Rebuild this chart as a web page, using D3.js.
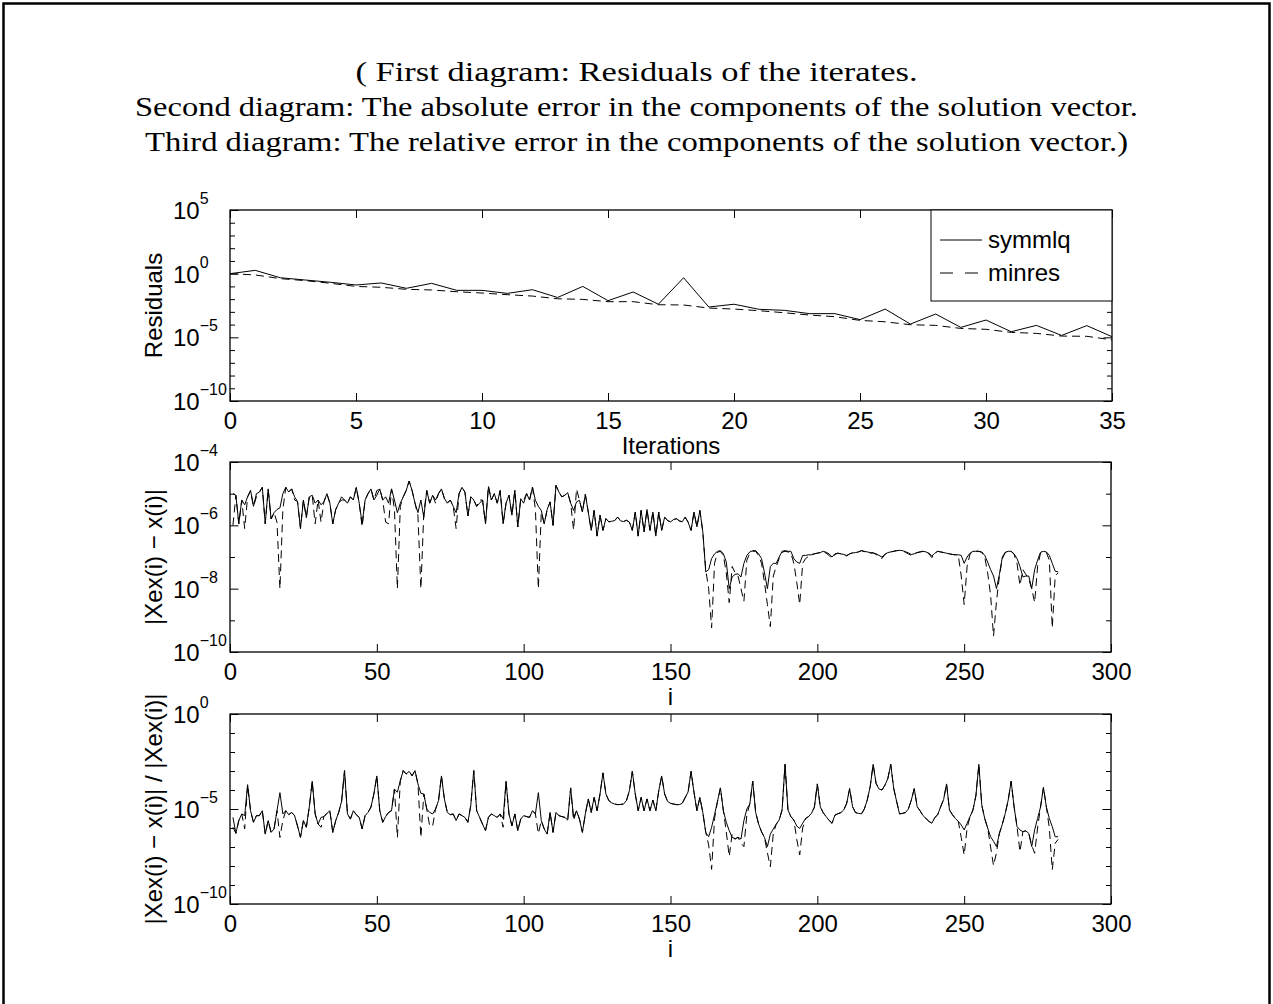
<!DOCTYPE html>
<html><head><meta charset="utf-8">
<script src="https://cdn.jsdelivr.net/npm/d3@7"></script>
<style>body{margin:0;background:#fff}svg{display:block}</style>
</head><body>
<svg id="chart" width="1273" height="1004"></svg>
<script>
// ---------------- DATA (values stored as log10 exponents) ----------------
const titleLines = [
  "( First diagram: Residuals of the iterates.",
  "Second diagram: The absolute error in the components of the solution vector.",
  "Third diagram: The relative error in the components of the solution vector.)"
];
const seriesNames = ["symmlq", "minres"];
const iterations = [0,1,2,3,4,5,6,7,8,9,10,11,12,13,14,15,16,17,18,19,20,21,22,23,24,25,26,27,28,29,30,31,32,33,34,35];
const iterTicks = [0,5,10,15,20,25,30,35];
const compTicks = [0,50,100,150,200,250,300];

const residSymmlqExp = [0.0,0.26,-0.32,-0.5,-0.68,-0.89,-0.73,-1.15,-0.76,-1.31,-1.31,-1.55,-1.26,-1.87,-1.0,-2.12,-1.44,-2.40,-0.32,-2.62,-2.40,-2.80,-2.88,-3.14,-3.14,-3.61,-2.78,-3.96,-3.17,-4.22,-3.64,-4.56,-4.06,-4.85,-4.08,-4.95];
const residMinresExp = [0.0,-0.1,-0.39,-0.55,-0.76,-1.0,-1.07,-1.23,-1.28,-1.42,-1.52,-1.65,-1.76,-1.97,-2.02,-2.2,-2.2,-2.44,-2.46,-2.70,-2.78,-2.91,-3.07,-3.25,-3.38,-3.67,-3.78,-4.01,-4.06,-4.30,-4.37,-4.61,-4.69,-4.90,-4.92,-5.2];

const absErrSymmlqExp = [
-5.0,-5.05,-5.95,-5.2,-5.35,-5.1,-4.9,-5.4,-5.0,-4.95,
-4.8,-5.95,-4.85,-5.8,-5.6,-5.5,-5.45,-5.0,-4.8,-4.95,
-4.85,-5.1,-5.25,-6.1,-5.2,-5.75,-5.1,-5.05,-5.3,-5.2,
-5.35,-5.25,-5.0,-5.3,-5.95,-5.5,-5.3,-5.1,-5.2,-5.3,
-5.1,-5.2,-4.8,-5.3,-5.95,-5.2,-5.0,-4.85,-5.2,-5.05,
-4.85,-5.2,-5.1,-5.3,-4.85,-5.2,-5.6,-5.3,-5.1,-4.9,
-4.6,-4.9,-5.3,-5.6,-5.2,-5.75,-4.9,-5.3,-5.05,-5.2,
-5.0,-4.85,-5.15,-5.3,-5.2,-5.4,-5.6,-5.0,-4.8,-4.95,
-5.7,-5.1,-5.2,-5.4,-5.3,-5.2,-5.95,-4.8,-5.2,-5.0,
-5.3,-4.9,-5.95,-5.3,-5.05,-5.68,-4.89,-6.05,-5.16,-5.3,
-5.0,-5.2,-4.79,-5.21,-5.4,-5.53,-5.95,-5.5,-5.26,-6.0,
-4.74,-4.95,-5.1,-5.05,-4.97,-5.3,-5.53,-5.26,-5.21,-5.58,
-5.02,-5.58,-6.16,-5.53,-6.34,-5.68,-6.16,-5.79,-5.89,-5.87,
-5.85,-5.74,-5.86,-5.88,-5.84,-5.9,-6.16,-5.58,-6.34,-5.53,
-6.2,-5.5,-6.16,-5.58,-6.34,-5.58,-6.16,-5.74,-5.85,-5.89,
-5.82,-5.79,-5.86,-5.89,-5.74,-5.9,-6.16,-5.58,-6.05,-5.53,
-6.2,-7.47,-7.4,-7.05,-6.9,-6.82,-6.8,-6.9,-7.16,-8.0,
-7.63,-7.55,-7.53,-7.63,-7.2,-6.95,-6.84,-6.8,-6.8,-6.9,
-7.05,-7.5,-8.0,-7.3,-7.2,-7.2,-7.0,-6.82,-6.8,-6.82,
-6.82,-7.05,-7.16,-7.2,-6.95,-6.95,-6.93,-6.93,-6.9,-6.88,
-6.86,-6.82,-6.85,-6.9,-7.0,-6.9,-6.88,-6.9,-6.92,-6.95,
-6.9,-6.87,-6.86,-6.84,-6.8,-6.82,-6.84,-6.86,-6.87,-6.9,
-6.95,-7.0,-6.92,-6.86,-6.84,-6.82,-6.8,-6.79,-6.8,-6.83,
-6.87,-6.92,-6.9,-6.86,-6.84,-6.82,-6.84,-6.88,-6.97,-6.88,
-6.82,-6.84,-6.86,-6.88,-6.9,-6.92,-6.93,-6.93,-6.95,-7.2,
-7.0,-6.88,-6.82,-6.82,-6.82,-6.84,-6.95,-7.16,-7.4,-7.6,
-8.0,-7.55,-7.0,-6.85,-6.82,-6.82,-6.9,-7.05,-7.3,-7.63,
-7.6,-7.6,-8.0,-7.4,-7.1,-6.85,-6.82,-6.84,-6.95,-7.2,
-7.45,-7.47];

const absErrMinresExp = [
-6.0,-5.05,-5.95,-5.2,-6.1,-5.1,-4.9,-5.4,-5.1,-4.95,
-4.8,-5.95,-4.85,-5.8,-5.6,-5.9,-8.0,-5.5,-4.8,-4.95,
-4.85,-5.2,-5.25,-6.1,-5.2,-5.75,-5.1,-5.05,-5.95,-5.2,
-5.9,-5.25,-5.0,-5.3,-5.95,-5.5,-5.3,-5.2,-5.2,-5.3,
-5.1,-5.2,-4.8,-5.3,-6.05,-5.2,-5.0,-4.85,-5.2,-4.9,
-4.85,-5.2,-5.9,-5.95,-4.85,-5.5,-8.0,-5.4,-5.1,-4.9,
-4.6,-4.9,-5.3,-5.7,-8.0,-5.6,-4.9,-5.3,-5.05,-5.3,
-5.0,-4.85,-5.15,-5.3,-5.2,-5.4,-6.1,-5.0,-4.8,-4.95,
-5.7,-5.1,-5.2,-5.4,-5.2,-5.2,-5.95,-4.75,-5.2,-5.0,
-5.3,-4.9,-5.95,-5.3,-5.05,-5.68,-4.89,-6.05,-5.16,-5.2,
-5.0,-5.2,-4.79,-5.5,-8.0,-5.6,-5.95,-5.5,-5.26,-6.0,
-4.74,-4.95,-5.1,-5.05,-4.97,-5.3,-6.15,-4.85,-5.21,-5.58,
-5.02,-5.58,-6.16,-5.53,-6.34,-5.68,-6.16,-5.79,-5.89,-5.87,
-5.85,-5.74,-5.86,-5.88,-5.84,-5.9,-6.16,-5.58,-6.34,-5.53,
-6.2,-5.5,-6.16,-5.58,-6.34,-5.58,-6.16,-5.74,-5.85,-5.89,
-5.82,-5.79,-5.86,-5.89,-5.74,-5.9,-6.16,-5.58,-6.05,-5.53,
-6.2,-7.4,-8.0,-9.24,-7.2,-6.85,-6.82,-6.95,-7.5,-8.44,
-7.3,-7.5,-7.6,-8.0,-8.4,-7.1,-6.88,-6.82,-6.82,-6.95,
-7.2,-7.8,-8.5,-9.2,-7.6,-7.3,-7.05,-6.85,-6.82,-6.84,
-6.88,-7.2,-7.8,-8.5,-7.2,-7.05,-6.98,-6.92,-6.9,-6.88,
-6.86,-6.83,-6.88,-6.95,-7.05,-6.92,-6.88,-6.9,-6.93,-6.97,
-6.9,-6.87,-6.86,-6.84,-6.8,-6.83,-6.86,-6.88,-6.87,-6.92,
-6.98,-7.05,-6.92,-6.86,-6.84,-6.82,-6.8,-6.79,-6.81,-6.85,
-6.9,-6.95,-6.9,-6.86,-6.84,-6.82,-6.86,-6.9,-7.02,-6.88,
-6.82,-6.84,-6.86,-6.88,-6.9,-6.92,-6.93,-6.95,-7.6,-8.5,
-7.3,-6.9,-6.84,-6.82,-6.82,-6.86,-7.0,-7.5,-8.2,-9.5,
-8.4,-7.6,-7.05,-6.86,-6.82,-6.82,-6.92,-7.2,-7.9,-7.4,
-7.55,-7.7,-8.0,-8.44,-7.3,-6.88,-6.84,-6.86,-7.1,-9.24,
-7.6,-7.5];

const relErrSymmlqExp = [
-5.44,-6.28,-5.61,-5.26,-5.35,-3.72,-5.09,-5.7,-5.35,-5.35,
-5.09,-6.32,-5.61,-6.23,-6.05,-5.09,-4.14,-5.26,-5.09,-5.3,
-5.18,-5.35,-5.9,-6.49,-5.61,-5.96,-4.9,-3.54,-5.26,-5.79,
-5.44,-5.4,-5.23,-5.09,-6.23,-5.61,-5.18,-4.6,-2.98,-5.26,
-5.53,-5.09,-5.3,-5.44,-6.05,-5.35,-5.18,-4.9,-4.2,-3.26,
-5.09,-5.7,-5.4,-5.18,-5.09,-3.95,-4.12,-3.51,-2.98,-3.16,
-3.02,-3.25,-2.98,-3.68,-4.18,-4.21,-5.0,-5.18,-5.26,-5.0,
-4.56,-3.26,-4.47,-5.18,-5.3,-5.26,-5.61,-5.26,-5.35,-5.44,
-5.7,-4.8,-2.98,-5.09,-5.44,-5.8,-6.14,-5.44,-5.26,-5.35,
-5.44,-5.26,-5.5,-3.54,-5.26,-5.88,-5.26,-6.14,-5.53,-5.35,
-5.4,-5.44,-5.09,-5.26,-4.14,-5.61,-6.05,-6.32,-5.18,-6.23,
-5.18,-5.35,-5.4,-5.44,-5.58,-3.89,-5.44,-5.09,-5.53,-6.23,
-5.26,-4.47,-5.18,-4.39,-5.09,-4.21,-3.1,-4.21,-4.56,-4.68,
-4.74,-4.77,-4.76,-4.74,-4.56,-4.04,-3.02,-4.21,-5.09,-4.39,
-5.09,-4.47,-5.09,-4.53,-5.09,-4.04,-3.26,-4.21,-4.6,-4.7,
-4.74,-4.77,-4.77,-4.7,-4.4,-4.1,-3.02,-4.12,-5.09,-4.39,
-5.18,-6.23,-6.46,-5.96,-5.3,-4.6,-3.89,-5.09,-5.7,-6.14,
-6.49,-6.58,-6.49,-6.58,-5.61,-5.0,-4.74,-3.54,-5.18,-5.79,
-6.2,-6.5,-6.98,-6.32,-6.05,-5.8,-5.58,-5.05,-2.65,-5.05,
-5.4,-5.58,-5.9,-6.02,-5.75,-5.5,-5.4,-5.23,-4.9,-3.68,
-4.88,-5.2,-5.4,-5.6,-5.75,-5.32,-5.25,-5.19,-5.05,-4.7,
-3.93,-4.88,-5.19,-5.23,-5.26,-5.0,-4.53,-3.82,-2.65,-3.65,
-3.95,-4.0,-3.75,-3.4,-2.65,-3.91,-4.6,-5.26,-5.23,-5.19,
-5.0,-4.53,-3.93,-4.88,-5.1,-5.35,-5.5,-5.65,-5.75,-5.45,
-5.3,-4.88,-4.5,-3.68,-5.05,-5.3,-5.5,-5.65,-5.84,-6.1,
-5.75,-5.4,-5.05,-4.3,-2.65,-4.8,-5.5,-6.0,-6.46,-6.7,
-6.98,-6.28,-5.8,-5.23,-4.53,-3.54,-4.88,-5.93,-6.1,-6.19,
-6.15,-6.28,-6.98,-6.1,-5.5,-4.9,-3.86,-4.9,-5.5,-5.93,
-6.46,-6.46];

const relErrMinresExp = [
-5.96,-6.28,-5.61,-5.26,-6.05,-3.72,-5.09,-5.7,-5.35,-5.35,
-5.09,-6.32,-5.61,-6.23,-6.05,-5.09,-6.5,-5.6,-5.09,-5.3,
-5.18,-5.35,-5.9,-6.49,-5.61,-5.96,-4.9,-3.54,-5.26,-5.79,
-5.96,-5.4,-5.23,-5.09,-6.23,-5.61,-5.18,-4.6,-2.98,-5.26,
-5.53,-5.09,-5.3,-5.44,-6.05,-5.35,-5.18,-4.9,-4.2,-3.26,
-5.09,-5.7,-5.4,-5.18,-5.09,-3.95,-6.5,-3.51,-2.98,-3.16,
-3.02,-3.25,-2.98,-3.68,-6.5,-4.21,-5.0,-5.9,-5.9,-5.0,
-4.56,-3.26,-4.47,-5.18,-5.3,-5.26,-5.61,-5.26,-5.35,-5.44,
-5.7,-4.8,-2.98,-5.09,-5.44,-5.8,-6.14,-5.44,-5.26,-5.35,
-5.44,-5.26,-5.96,-3.54,-5.26,-5.88,-5.26,-6.14,-5.53,-5.35,
-5.4,-5.44,-5.09,-5.26,-6.3,-5.61,-6.05,-6.32,-5.18,-6.23,
-5.18,-5.35,-5.4,-5.44,-5.58,-3.89,-5.6,-5.09,-5.53,-6.23,
-5.26,-4.47,-5.18,-4.39,-5.09,-4.21,-3.1,-4.21,-4.56,-4.68,
-4.74,-4.77,-4.76,-4.74,-4.56,-4.04,-3.02,-4.21,-5.09,-4.39,
-5.09,-4.47,-5.09,-4.53,-5.09,-4.04,-3.26,-4.21,-4.6,-4.7,
-4.74,-4.77,-4.77,-4.7,-4.4,-4.1,-3.02,-4.12,-5.09,-4.39,
-5.18,-6.23,-6.9,-8.18,-5.5,-4.6,-3.89,-5.09,-6.2,-7.5,
-6.3,-6.58,-6.49,-6.8,-6.98,-5.3,-4.74,-3.54,-5.18,-5.79,
-6.2,-6.5,-7.3,-8.04,-6.3,-5.8,-5.58,-5.05,-2.65,-5.05,
-5.4,-5.58,-6.6,-7.42,-6.0,-5.5,-5.4,-5.23,-4.9,-3.68,
-4.88,-5.2,-5.4,-5.6,-5.75,-5.32,-5.25,-5.19,-5.05,-4.7,
-3.93,-4.88,-5.19,-5.23,-5.26,-5.0,-4.53,-3.82,-2.65,-3.65,
-3.95,-4.0,-3.75,-3.4,-2.65,-3.91,-4.6,-5.26,-5.23,-5.19,
-5.0,-4.53,-3.93,-4.88,-5.1,-5.35,-5.5,-5.65,-5.75,-5.45,
-5.3,-4.88,-4.5,-3.68,-5.05,-5.3,-5.5,-5.65,-6.5,-7.42,
-6.0,-5.4,-5.05,-4.3,-2.65,-4.8,-5.5,-6.0,-7.0,-7.98,
-7.3,-6.28,-5.8,-5.23,-4.53,-3.54,-4.88,-5.93,-7.25,-6.19,
-6.15,-6.28,-6.9,-7.33,-6.0,-4.9,-3.86,-4.9,-6.0,-8.2,
-6.8,-6.6];

// ---------------- DRAWING ----------------
const svg = d3.select("#chart");
const SANS = "'Liberation Sans', Arial, Helvetica, sans-serif";
const SERIF = "'Liberation Serif', 'DejaVu Serif', serif";
const FS = 24;
const L = 230;

// outer frame
svg.append("path").attr("d", "M3.5,1010 V3.5 H1269.5 V1010")
  .attr("fill", "none").attr("stroke", "#000").attr("stroke-width", 2.5);

// title
const titleWidths = [562, 1003, 983];
const titleBaselines = [81, 116, 151];
titleLines.forEach((t, k) => {
  svg.append("text").attr("x", 636.5).attr("y", titleBaselines[k])
    .attr("text-anchor", "middle").attr("font-family", SERIF).attr("font-size", 28)
    .attr("textLength", titleWidths[k]).attr("lengthAdjust", "spacingAndGlyphs")
    .attr("fill", "#000").text(t);
});

function panel(cfg) {
  const g = svg.append("g");
  const x = d3.scaleLinear().domain(cfg.xDomain).range([L, cfg.right]);
  const y = d3.scaleLog().domain([Math.pow(10, cfg.yExp[0]), Math.pow(10, cfg.yExp[1])]).range([cfg.bottom, cfg.top]);
  const majors = cfg.yLabels.map(e => Math.pow(10, e));
  const minors = d3.range(cfg.yExp[0], cfg.yExp[1] + 1).filter(e => !cfg.yLabels.includes(e)).map(e => Math.pow(10, e));

  // data lines
  const line = d3.line().x((d, k) => x(cfg.xs[k])).y(d => y(Math.pow(10, d)));
  g.append("path").datum(cfg.dashed).attr("d", line)
    .attr("fill", "none").attr("stroke", "#000").attr("stroke-width", 1)
    .attr("stroke-dasharray", "8,5");
  g.append("path").datum(cfg.solid).attr("d", line)
    .attr("fill", "none").attr("stroke", "#000").attr("stroke-width", 1);

  // axes (inward ticks)
  const clean = s => s.select(".domain").remove();
  const bx = g.append("g").attr("transform", `translate(0,${cfg.bottom})`)
    .call(d3.axisBottom(x).tickValues(cfg.xTicks).tickSize(-8).tickPadding(11).tickFormat(d3.format("d")))
    .call(clean);
  bx.attr("font-family", SANS).attr("font-size", FS);
  bx.selectAll("text").attr("fill", "#000");
  g.append("g").attr("transform", `translate(0,${cfg.top})`)
    .call(d3.axisTop(x).tickValues(cfg.xTicks).tickSize(-8).tickFormat(""))
    .call(clean).selectAll("text").remove();

  const lm = g.append("g").attr("transform", `translate(${L},0)`)
    .call(d3.axisLeft(y).tickValues(majors).tickSize(-8.5).tickFormat(""))
    .call(clean);
  g.append("g").attr("transform", `translate(${L},0)`)
    .call(d3.axisLeft(y).tickValues(minors).tickSize(-5).tickFormat(""))
    .call(clean).selectAll("text").remove();
  g.append("g").attr("transform", `translate(${cfg.right},0)`)
    .call(d3.axisRight(y).tickValues(majors).tickSize(-8.5).tickFormat(""))
    .call(clean).selectAll("text").remove();
  g.append("g").attr("transform", `translate(${cfg.right},0)`)
    .call(d3.axisRight(y).tickValues(minors).tickSize(-5).tickFormat(""))
    .call(clean).selectAll("text").remove();
  g.selectAll(".tick line").attr("stroke", "#000").attr("stroke-width", 1);

  // y tick labels 10^e
  lm.selectAll(".tick text").each(function(d) {
    const e = Math.round(Math.log10(d));
    const t = d3.select(this).attr("x", 173 - L).attr("y", 8.5).attr("dy", null)
      .attr("text-anchor", "start").attr("font-family", SANS).attr("font-size", FS).attr("fill", "#000").text(null);
    t.append("tspan").text("10");
    t.append("tspan").attr("dy", -15).attr("font-size", 16).text(e < 0 ? "\u2212" + (-e) : String(e));
  });

  // frame
  g.append("rect").attr("x", L).attr("y", cfg.top).attr("width", cfg.right - L).attr("height", cfg.bottom - cfg.top)
    .attr("fill", "none").attr("stroke", "#000").attr("stroke-width", 1.3);

  // labels
  g.append("text").attr("x", (L + cfg.right) / 2).attr("y", cfg.bottom + 53)
    .attr("text-anchor", "middle").attr("font-family", SANS).attr("font-size", FS).attr("fill", "#000").text(cfg.xLabel);
  g.append("text").attr("transform", `translate(162,${(cfg.top + cfg.bottom) / 2}) rotate(-90)`)
    .attr("text-anchor", "middle").attr("font-family", SANS).attr("font-size", FS).attr("fill", "#000").text(cfg.yLabel);
  return g;
}

const componentIndex = d3.range(1, absErrSymmlqExp.length + 1);

const p1 = panel({top: 210, bottom: 401, right: 1112, xDomain: [0, 35], xTicks: iterTicks,
  yExp: [-10, 5], yLabels: [-10, -5, 0, 5], xs: iterations,
  solid: residSymmlqExp, dashed: residMinresExp, xLabel: "Iterations", yLabel: "Residuals"});
panel({top: 462, bottom: 652, right: 1111, xDomain: [0, 300], xTicks: compTicks,
  yExp: [-10, -4], yLabels: [-10, -8, -6, -4], xs: componentIndex,
  solid: absErrSymmlqExp, dashed: absErrMinresExp, xLabel: "i", yLabel: "|Xex(i) \u2212 x(i)|"});
panel({top: 714, bottom: 904, right: 1111, xDomain: [0, 300], xTicks: compTicks,
  yExp: [-10, 0], yLabels: [-10, -5, 0], xs: componentIndex,
  solid: relErrSymmlqExp, dashed: relErrMinresExp, xLabel: "i", yLabel: "|Xex(i) \u2212 x(i)| / |Xex(i)|"});

// legend
const lg = p1.append("g");
lg.append("rect").attr("x", 931).attr("y", 210).attr("width", 181).attr("height", 91)
  .attr("fill", "#fff").attr("stroke", "#000").attr("stroke-width", 1);
seriesNames.forEach((n, k) => {
  const yy = 240 + k * 33;
  lg.append("line").attr("x1", 940).attr("x2", 982).attr("y1", yy).attr("y2", yy)
    .attr("stroke", "#000").attr("stroke-width", 1).attr("stroke-dasharray", k ? "13,12" : null);
  lg.append("text").attr("x", 988).attr("y", yy + 8).attr("font-family", SANS).attr("font-size", FS)
    .attr("fill", "#000").text(n);
});
</script>
</body></html>
